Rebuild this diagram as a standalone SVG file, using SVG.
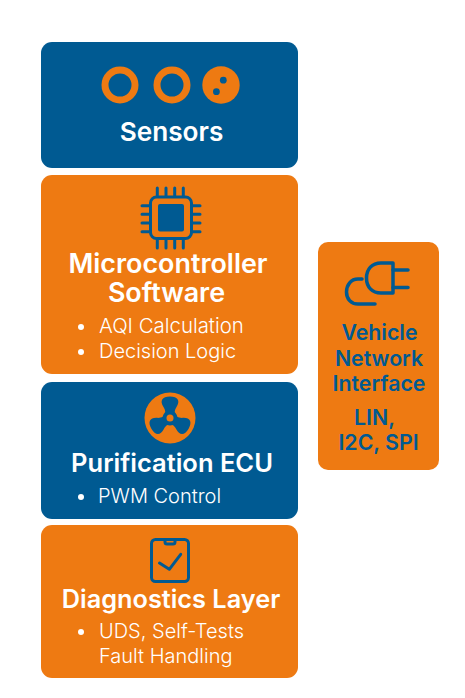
<svg xmlns="http://www.w3.org/2000/svg" width="465" height="698" viewBox="0 0 465 698">
<style>
.o{fill:#ee7a12}.b{fill:#005a92}
text{font-family:Inter,"Liberation Sans",sans-serif}
.h{font-size:25.5px;font-weight:600;fill:#fff;text-anchor:middle}
.m{font-size:26.9px}
.l{font-size:20px;font-weight:300;fill:#fff}
.v{font-size:21.3px;font-weight:600;fill:#005a92;text-anchor:middle}
.is{fill:none;stroke:#005a92;stroke-width:3;stroke-linecap:round;stroke-linejoin:round}
</style>
<defs>
<path id="blade" d="M164 418C165.500 413 166 411 163.500 407C159.500 401 162 396.500 170 396.500C178 396.500 180.500 401 176.500 407C174 411 174.500 413 176 418Z"/>
</defs>
<rect width="465" height="698" fill="#fff"/>
<g id="sensors">
<rect class="b" x="41" y="42" width="257" height="126" rx="11"/>
<circle cx="120" cy="85" r="15" fill="none" stroke="#ee7a12" stroke-width="7"/>
<circle cx="172" cy="85" r="15" fill="none" stroke="#ee7a12" stroke-width="7"/>
<circle class="o" cx="221" cy="85" r="18.700"/>
<circle class="b" cx="223.300" cy="80.200" r="3.400"/>
<circle class="b" cx="216.400" cy="91.700" r="3.400"/>
<text class="h" x="171.500" y="141" style="font-size:26.200px">Sensors</text>
</g>
<g id="microcontroller">
<rect class="o" x="41" y="175" width="257" height="199" rx="11"/>
<g class="is">
<rect x="150.500" y="197" width="41" height="41.500" rx="6"/>
<path d="M157.300 188V196M166 188V196M174.700 188V196M183.300 188V196M157.300 240V248M166 240V248M174.700 240V248M183.300 240V248M142 205.700H149M142 214.300H149M142 223H149M142 231.700H149M193 205.700H200M193 214.300H200M193 223H200M193 231.700H200"/>
</g>
<rect class="b" x="158" y="204" width="26" height="27.500" rx="2"/>
<text class="h m" x="168" y="273">Microcontroller</text>
<text class="h m" x="166.500" y="302">Software</text>
<circle cx="81" cy="327" r="3" fill="#fff"/>
<text class="l" x="99" y="333" style="font-size:20.400px">AQI Calculation</text>
<circle cx="81" cy="352" r="3" fill="#fff"/>
<text class="l" x="99" y="358">Decision Logic</text>
</g>
<g id="purification-ecu">
<rect class="b" x="41" y="382" width="257" height="137" rx="11"/>
<circle class="o" cx="170" cy="418" r="25.500"/>
<g class="b">
<use href="#blade"/>
<use href="#blade" transform="rotate(120 170 418)"/>
<use href="#blade" transform="rotate(240 170 418)"/>
<circle cx="170" cy="418" r="7.500"/>
</g>
<circle class="o" cx="170" cy="418" r="3.500"/>
<text class="h" x="172" y="472">Purification ECU</text>
<circle cx="81" cy="497" r="3" fill="#fff"/>
<text class="l" x="98" y="503">PWM Control</text>
</g>
<g id="diagnostics-layer">
<rect class="o" x="41" y="525" width="257" height="153" rx="11"/>
<g class="is">
<rect x="151.500" y="539.500" width="37" height="42" rx="4"/>
<path d="M165 540V542Q165 544 167 544H173Q175 544 175 542V540"/>
<path d="M159.500 563L169.300 569.300L180.700 554.300"/>
</g>
<text class="h" x="171" y="608" style="font-size:25.300px">Diagnostics Layer</text>
<circle cx="81" cy="632" r="3" fill="#fff"/>
<text class="l" x="99" y="638">UDS, Self-Tests</text>
<text class="l" x="99" y="663">Fault Handling</text>
</g>
<g id="vehicle-network-interface">
<rect class="o" x="318" y="242" width="121" height="228" rx="10"/>
<g class="is" style="stroke-width:3.500">
<path d="M393 263V293H381C372 293 366.500 287 366.500 278C366.500 269 372 263 381 263Z"/>
<path d="M393 270H408M393 287.500H408"/>
<path d="M362 279H358C351 279 346.500 285 346.500 292C346.500 299 351 304 358 304H375"/>
</g>
<text class="v" x="379.500" y="340">Vehicle</text>
<text class="v" x="379" y="366">Network</text>
<text class="v" x="379" y="391">Interface</text>
<text class="v" x="374.500" y="425">LIN,</text>
<text class="v" x="378.500" y="450">I2C, SPI</text>
</g>
</svg>
